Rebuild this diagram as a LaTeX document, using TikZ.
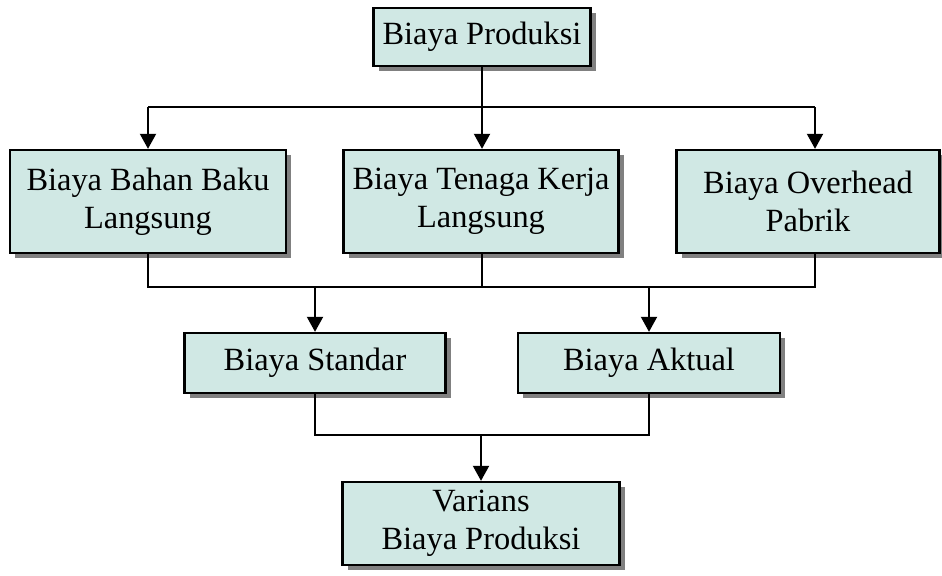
\documentclass[tikz,border=0pt]{standalone}
\usepackage{fontspec}
\setmainfont{Liberation Serif}
\usetikzlibrary{arrows.meta,shadows}
\begin{document}
\begin{tikzpicture}[x=0.5pt,y=-0.5pt,
  box/.style={draw=black,line width=1.2pt,fill=boxfill,inner sep=0pt,align=center,
    font=\fontsize{16.2}{19}\selectfont,
    drop shadow={shadow xshift=2.5pt,shadow yshift=-2.5pt,fill=shadowgray,opacity=1}},
  conn/.style={line width=1pt},
  arr/.style={conn,-{Triangle[width=8pt,length=7.5pt]}}]
\definecolor{boxfill}{RGB}{208,232,228}
\definecolor{shadowgray}{RGB}{128,128,128}
\useasboundingbox (0,0) rectangle (942,575);
\node[box,minimum width=217pt*0.5,minimum height=58pt*0.5] (top) at (482,37) {Biaya Produksi};
\node[box,minimum width=276pt*0.5,minimum height=103pt*0.5] (b1) at (148,201.5) {Biaya Bahan Baku\\Langsung};
\node[box,minimum width=275pt*0.5,minimum height=103pt*0.5] (b2) at (481,201.5) {Biaya Tenaga Kerja\\Langsung};
\node[box,minimum width=263pt*0.5,minimum height=103pt*0.5] (b3) at (808,201.5) {Biaya Overhead\\Pabrik};
\node[box,minimum width=261pt*0.5,minimum height=60pt*0.5] (bs) at (315,363) {Biaya Standar};
\node[box,minimum width=262pt*0.5,minimum height=60pt*0.5] (ba) at (649,363) {Biaya Aktual};
\node[box,minimum width=277pt*0.5,minimum height=83pt*0.5] (var) at (481,523.5) {Varians\\Biaya Produksi};
\coordinate (j1) at (482,107);
\coordinate (j1l) at (148,107);
\coordinate (j1r) at (815,107);
\coordinate (j2) at (482,287);
\coordinate (j2l) at (148,287);
\coordinate (j2r) at (815,287);
\coordinate (j3l) at (315,435);
\coordinate (j3r) at (650,435);
\coordinate (j3) at (482,435);
\draw[conn] (top.south) -- (j1);
\draw[conn] (j1l) -- (j1r);
\draw[arr] (j1l) -- (j1l |- b1.north);
\draw[arr] (j1) -- (j1 |- b2.north);
\draw[arr] (j1r) -- (j1r |- b3.north);
\draw[conn] (b1.south -| j2l) -- (j2l) -- (j2r) -- (b3.south -| j2r);
\draw[conn] (b2.south -| j2) -- (j2);
\draw[arr] (j2 -| bs) -- (bs.north);
\draw[arr] (j2 -| ba) -- (ba.north);
\draw[conn] (bs.south) -- (bs.south |- j3l) -- (ba.south |- j3r) -- (ba.south);
\draw[arr] (j3 -| var) -- (var.north);
\end{tikzpicture}
\end{document}
